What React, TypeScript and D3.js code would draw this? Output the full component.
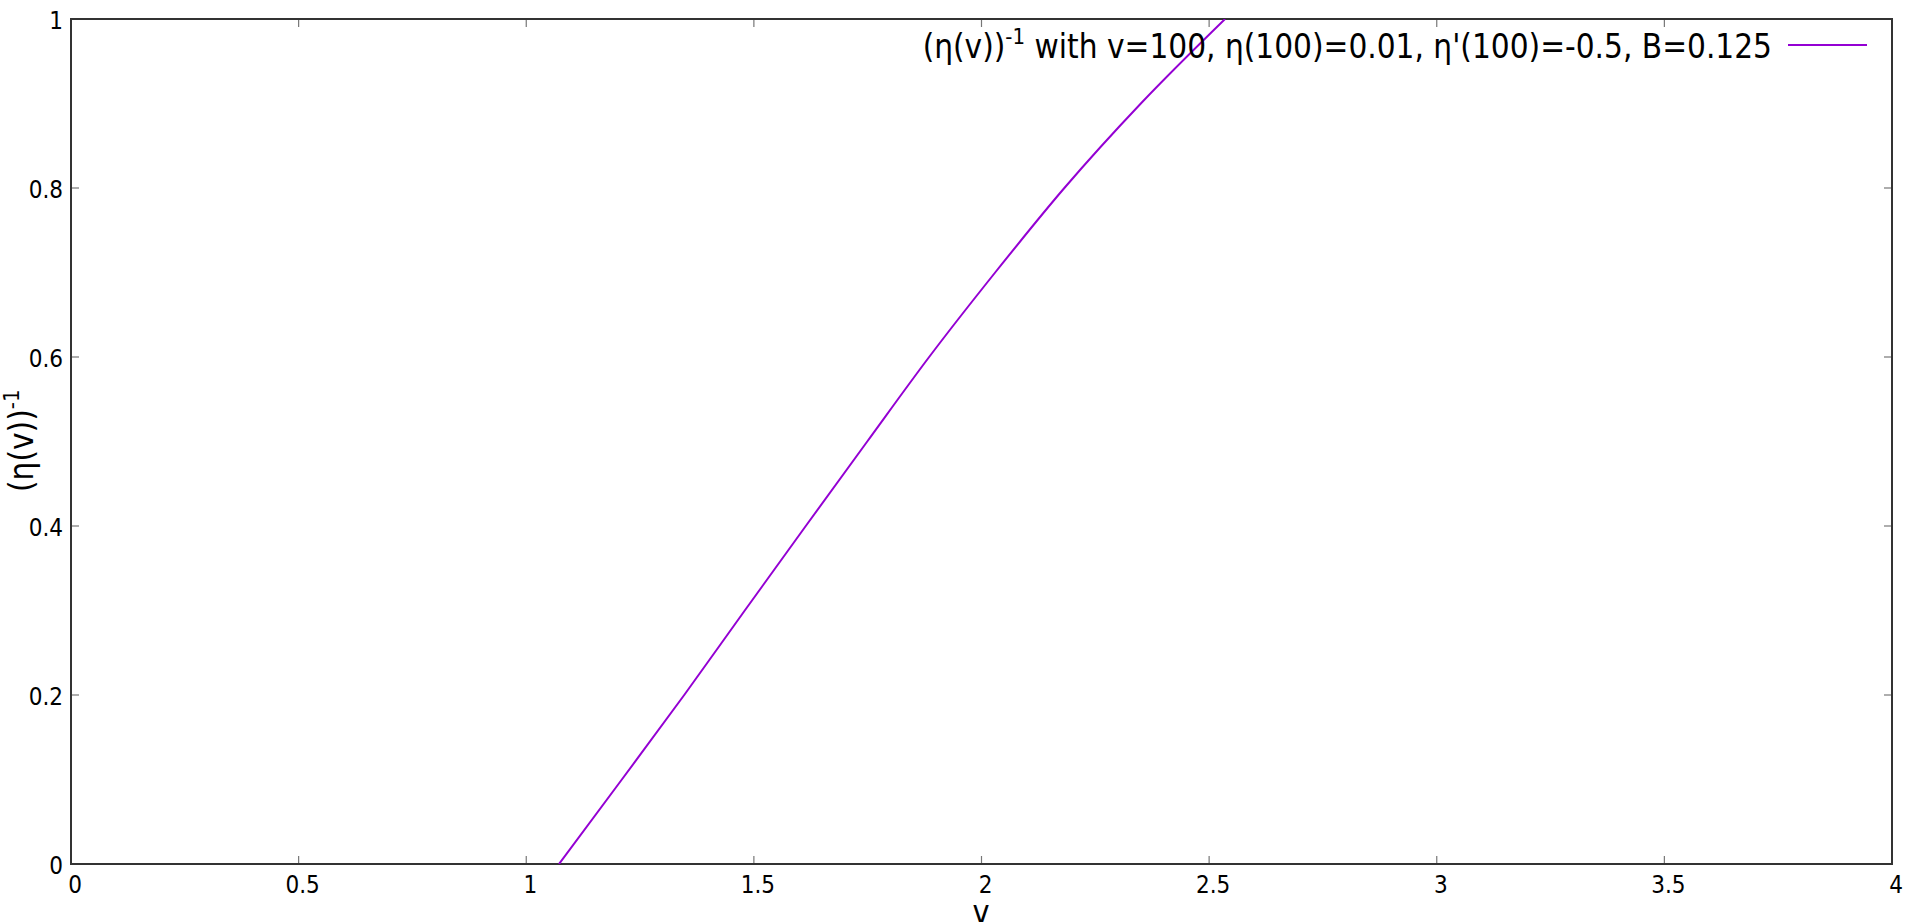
import React from "react";
import * as d3 from "d3";

// Curve (η(v))^-1
const curveV: number[] = [1.072, 1.21, 1.347, 1.48, 1.614, 1.749, 1.885, 2.03, 2.182, 2.35, 2.535];
const curveY: number[] = [0.0, 0.1, 0.2, 0.3, 0.4, 0.5, 0.6, 0.7, 0.8, 0.9, 1.0];

const xTicks: number[] = [0, 0.5, 1, 1.5, 2, 2.5, 3, 3.5, 4];
const xTickLabels: string[] = ["0", "0.5", "1", "1.5", "2", "2.5", "3", "3.5", "4"];
const yTicks: number[] = [0, 0.2, 0.4, 0.6, 0.8, 1];
const yTickLabels: string[] = ["0", "0.2", "0.4", "0.6", "0.8", "1"];

const legendMain = "(η(v))";
const legendSup = "-1";
const legendRest = " with v=100, η(100)=0.01, η'(100)=-0.5, B=0.125";
const xLabel = "v";

const W = 1916;
const H = 922;
const left = 71;
const right = 1892;
const top = 19;
const bottom = 864;

const FONT = "'DejaVu Sans Condensed', 'DejaVu Sans', sans-serif";

export default function App() {
  const x = d3.scaleLinear().domain([0, 4]).range([left, right]);
  const y = d3.scaleLinear().domain([0, 1]).range([bottom, top]);
  const pts: [number, number][] = curveV.map((v, i) => [v, curveY[i]]);
  const line = d3
    .line<[number, number]>()
    .x((d) => x(d[0]))
    .y((d) => y(d[1]))
    .curve(d3.curveMonotoneX);
  const tickLen = 8;
  const tickColor = "#777";
  return (
    <svg
      width={W}
      height={H}
      style={{ position: "absolute", left: 0, top: 0, display: "block", background: "#fff" }}
      fontFamily={FONT}
    >
      <defs>
        <clipPath id="plotclip">
          <rect x={left} y={top} width={right - left} height={bottom - top} />
        </clipPath>
      </defs>
      <rect x={0} y={0} width={W} height={H} fill="#fff" />
      {/* ticks */}
      {xTicks.map((t, i) => (
        <g key={"xt" + i}>
          <line x1={x(t)} x2={x(t)} y1={bottom} y2={bottom - tickLen} stroke={tickColor} strokeWidth={1.2} />
          <line x1={x(t)} x2={x(t)} y1={top} y2={top + tickLen} stroke={tickColor} strokeWidth={1.2} />
          <text x={x(t) + 4} y={893} fontSize={24} textAnchor="middle" fill="#000" style={{ fontStretch: "condensed" }}>
            {xTickLabels[i]}
          </text>
        </g>
      ))}
      {yTicks.map((t, i) => (
        <g key={"yt" + i}>
          <line x1={left} x2={left + tickLen} y1={y(t)} y2={y(t)} stroke={tickColor} strokeWidth={1.2} />
          <line x1={right} x2={right - tickLen} y1={y(t)} y2={y(t)} stroke={tickColor} strokeWidth={1.2} />
          <text x={63} y={y(t) + 10} fontSize={24} textAnchor="end" fill="#000" style={{ fontStretch: "condensed" }}>
            {yTickLabels[i]}
          </text>
        </g>
      ))}
      {/* border */}
      <rect x={left} y={top} width={right - left} height={bottom - top} fill="none" stroke="#333" strokeWidth={2} />
      {/* curve */}
      <path d={line(pts) || ""} fill="none" stroke="#9400d3" strokeWidth={2} clipPath="url(#plotclip)" />
      {/* legend */}
      <text x={1772} y={58} fontSize={33} textAnchor="end" fill="#000" style={{ fontStretch: "condensed" }}>
        <tspan>{legendMain}</tspan>
        <tspan fontSize={22} dy={-14}>{legendSup}</tspan>
        <tspan dy={14}>{legendRest}</tspan>
      </text>
      <line x1={1788} x2={1867} y1={45} y2={45} stroke="#9400d3" strokeWidth={2} />
      {/* axis labels */}
      <text x={981} y={923} fontSize={32} textAnchor="middle" fill="#000" style={{ fontStretch: "condensed" }}>
        {xLabel}
      </text>
      <text
        transform={`translate(33, 492) rotate(-90)`}
        fontSize={33}
        textAnchor="start"
        fill="#000"
        style={{ fontStretch: "condensed" }}
      >
        <tspan>{legendMain}</tspan>
        <tspan fontSize={22} dy={-14}>{legendSup}</tspan>
      </text>
    </svg>
  );
}
